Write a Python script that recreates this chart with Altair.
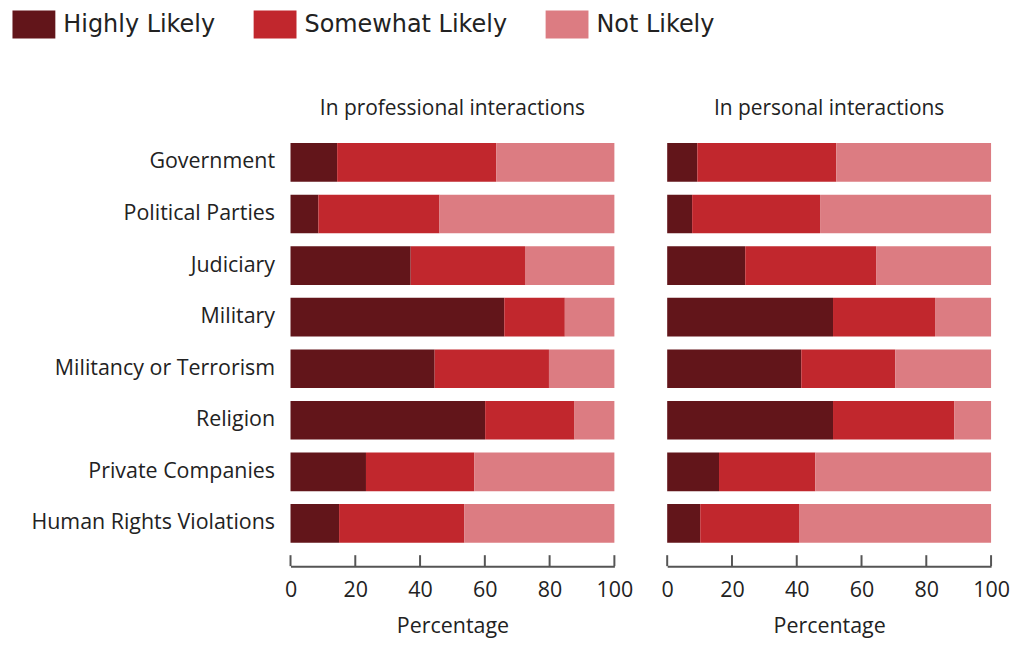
import altair as alt
import pandas as pd

categories = ["Government", "Political Parties", "Judiciary", "Military",
              "Militancy or Terrorism", "Religion", "Private Companies",
              "Human Rights Violations"]
levels = ["Highly Likely", "Somewhat Likely", "Not Likely"]
colors = ["#62151A", "#C1272D", "#DC7C82"]

prof_highly = [14.4, 8.6, 37.1, 66.0, 44.5, 60.1, 23.3, 15.0]
prof_somewhat = [49.1, 37.4, 35.3, 18.7, 35.3, 27.6, 33.4, 38.7]
prof_not = [36.5, 54.0, 27.6, 15.3, 20.2, 12.3, 43.3, 46.3]

pers_highly = [9.3, 7.7, 24.1, 51.2, 41.4, 51.2, 16.0, 10.2]
pers_somewhat = [42.9, 39.5, 40.4, 31.5, 29.0, 37.4, 29.7, 30.5]
pers_not = [47.8, 52.8, 35.5, 17.3, 29.6, 11.4, 54.3, 59.3]

tick_values = [0, 20, 40, 60, 80, 100]

FONT = "Open Sans"
W = 325
H = 414


def make_df(h, s, n):
    rows = []
    for i, c in enumerate(categories):
        for j, (lev, vals) in enumerate(zip(levels, [h, s, n])):
            rows.append({"category": c, "level": lev, "value": vals[i], "order": j})
    return pd.DataFrame(rows)


tick_df = pd.DataFrame({"t": tick_values})

legend = alt.Legend(
    title=None, orient="none", direction="horizontal",
    legendX=-271.5, legendY=-126.5,
    symbolType="M-1.536,-1H1.536V1H-1.536Z", symbolSize=784,
    symbolStrokeWidth=0, symbolOpacity=1,
    labelFont="DejaVu Sans", labelFontSize=24, labelColor="#222222",
    labelOffset=15.5, columnPadding=38, labelLimit=0,
)


def panel(df, title, show_y):
    xaxis = alt.Axis(values=tick_values, offset=17, tickSize=0, domainWidth=2,
                     domainColor="#555555", labelPadding=13, titlePadding=15,
                     grid=False, labelFlush=False, labelFont=FONT, labelFontSize=21.5,
                     labelColor="#222222", titleFont=FONT, titleFontSize=21.5,
                     titleFontWeight="normal", titleColor="#222222")
    if show_y:
        yaxis = alt.Axis(title=None, domain=False, ticks=False, labelPadding=16,
                         labelFont=FONT, labelFontSize=21.5, labelColor="#222222",
                         labelLimit=400)
    else:
        yaxis = None
    bars = alt.Chart(df).mark_bar(size=38.8).encode(
        x=alt.X("value:Q", stack="zero", title="Percentage",
                scale=alt.Scale(domain=[0, 100], nice=False), axis=xaxis),
        y=alt.Y("category:N", sort=categories,
                scale=alt.Scale(paddingInner=0.25, paddingOuter=0.125), axis=yaxis),
        color=alt.Color("level:N", sort=levels,
                        scale=alt.Scale(domain=levels, range=colors), legend=legend),
        order=alt.Order("order:Q"),
    )
    ticks = alt.Chart(tick_df).mark_rule(color="#555555", strokeWidth=2).encode(
        x=alt.X("t:Q", title="Percentage"),
        y=alt.value(H + 6),
        y2=alt.value(H + 17),
    )
    return alt.layer(bars, ticks).properties(
        width=W, height=H,
        title=alt.TitleParams(title, font=FONT, fontSize=21, fontWeight="normal",
                              color="#222222", anchor="middle", offset=18),
    )


left = panel(make_df(prof_highly, prof_somewhat, prof_not), "In professional interactions", True)
right = panel(make_df(pers_highly, pers_somewhat, pers_not), "In personal interactions", False)

chart = alt.hconcat(left, right, spacing=53, bounds="flush").properties(
    padding={"left": 11.5, "top": 1, "right": 0, "bottom": 0}
).configure_view(stroke=None)

chart.save("out.html", embed_options={"renderer": "svg", "actions": False})
